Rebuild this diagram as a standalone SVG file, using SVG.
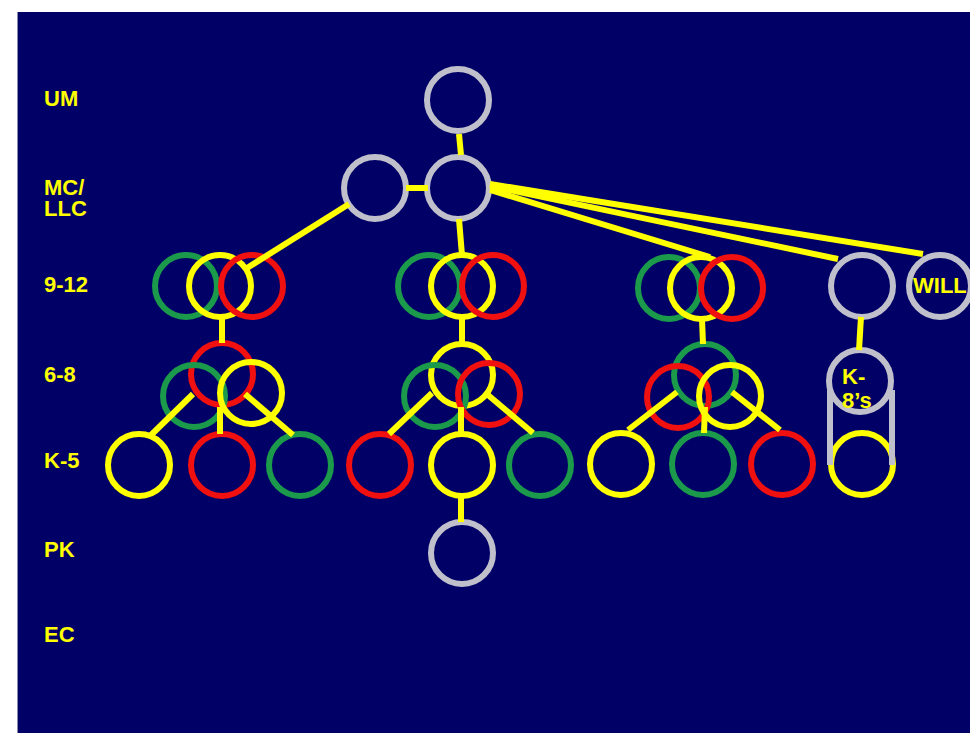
<svg xmlns="http://www.w3.org/2000/svg" width="970" height="733" viewBox="0 0 970 733">
<style>
.ring{fill:none;stroke-width:6}
.g{stroke:#1A9A4A}.y{stroke:#FFFF00}.r{stroke:#F01010}.s{stroke:#C0C0CC}
.conn line{stroke:#FFFF00;stroke-width:6;stroke-linecap:butt}
.cap{stroke:#C0C0CC;stroke-width:6}
text{font-family:"Liberation Sans",Arial,sans-serif;font-weight:bold;font-size:22px;fill:#FFFF00}
</style>
<rect width="970" height="733" fill="#ffffff"/>
<rect x="17" y="12" width="953" height="721" fill="#000066"/>
<line x1="17.5" y1="12" x2="17.5" y2="733" stroke="#8888aa" stroke-width="1"/>
<g id="labels">
<text x="44" y="106">UM</text>
<text x="44" y="195">MC/<tspan x="44" dy="21">LLC</tspan></text>
<text x="44" y="292">9-12</text>
<text x="44" y="382">6-8</text>
<text x="44" y="468">K-5</text>
<text x="44" y="557">PK</text>
<text x="44" y="642">EC</text>
</g>
<g id="um"><circle class="ring s" cx="458" cy="100" r="31"/></g>
<g id="mc"><circle class="ring s" cx="458" cy="188" r="31"/></g>
<g id="llc"><circle class="ring s" cx="375" cy="188" r="31"/></g>
<g id="hs1"><circle class="ring g" cx="186" cy="286" r="31"/><circle class="ring y" cx="220" cy="286" r="31"/><circle class="ring r" cx="252" cy="286" r="31"/></g>
<g id="ms1"><circle class="ring r" cx="222" cy="374" r="31"/><circle class="ring g" cx="194" cy="396" r="31"/><circle class="ring y" cx="251" cy="393" r="31"/></g>
<g id="es1a"><circle class="ring y" cx="139" cy="465" r="31"/></g>
<g id="es1b"><circle class="ring r" cx="222" cy="465" r="31"/></g>
<g id="es1c"><circle class="ring g" cx="300" cy="465" r="31"/></g>
<g id="hs2"><circle class="ring g" cx="429" cy="286" r="31"/><circle class="ring y" cx="462" cy="286" r="31"/><circle class="ring r" cx="493" cy="286" r="31"/></g>
<g id="ms2"><circle class="ring y" cx="462" cy="375" r="31"/><circle class="ring g" cx="435" cy="396" r="31"/><circle class="ring r" cx="489" cy="394" r="31"/></g>
<g id="es2a"><circle class="ring r" cx="380" cy="465" r="31"/></g>
<g id="es2b"><circle class="ring y" cx="462" cy="465" r="31"/></g>
<g id="es2c"><circle class="ring g" cx="540" cy="465" r="31"/></g>
<g id="pk"><circle class="ring s" cx="462" cy="553" r="31"/></g>
<g id="hs3"><circle class="ring g" cx="669" cy="288" r="31"/><circle class="ring y" cx="701" cy="288" r="31"/><circle class="ring r" cx="732" cy="288" r="31"/></g>
<g id="ms3"><circle class="ring g" cx="705" cy="375" r="31"/><circle class="ring r" cx="678" cy="397" r="31"/><circle class="ring y" cx="730" cy="396" r="31"/></g>
<g id="es3a"><circle class="ring y" cx="621" cy="464" r="31"/></g>
<g id="es3b"><circle class="ring g" cx="703" cy="464" r="31"/></g>
<g id="es3c"><circle class="ring r" cx="782" cy="464" r="31"/></g>
<g id="k8hs"><circle class="ring s" cx="862" cy="286" r="31"/></g>
<g id="will"><circle class="ring s" cx="940" cy="286" r="31"/><text x="913" y="293">WILL</text></g>
<g id="k8"><circle class="ring y" cx="862" cy="464" r="31"/><line class="cap" x1="830" y1="390" x2="830" y2="465"/><line class="cap" x1="892" y1="390" x2="892" y2="465"/><circle class="ring s" cx="860" cy="381" r="31"/><text x="842" y="384" font-size="21">K-<tspan x="842" dy="24">8’s</tspan></text></g>
<g id="connectors" class="conn">
<line x1="459" y1="134" x2="461" y2="155"/>
<line x1="406" y1="188" x2="428" y2="188"/>
<line x1="349" y1="204" x2="247" y2="268"/>
<line x1="459" y1="219" x2="462" y2="255"/>
<line x1="490" y1="184" x2="923" y2="254"/>
<line x1="490" y1="186" x2="838" y2="259"/>
<line x1="490" y1="190" x2="710" y2="257"/>
<line x1="222" y1="317" x2="222" y2="343"/>
<line x1="193" y1="394" x2="149" y2="437"/>
<line x1="220" y1="407" x2="220" y2="434"/>
<line x1="245" y1="394" x2="293" y2="435"/>
<line x1="462" y1="317" x2="462" y2="344"/>
<line x1="432" y1="393" x2="389" y2="434"/>
<line x1="461" y1="407" x2="461" y2="434"/>
<line x1="488" y1="395" x2="533" y2="433"/>
<line x1="461" y1="496" x2="461" y2="522"/>
<line x1="702" y1="319" x2="703" y2="344"/>
<line x1="677" y1="392" x2="628" y2="430"/>
<line x1="705" y1="407" x2="704" y2="433"/>
<line x1="732" y1="392" x2="780" y2="430"/>
<line x1="861" y1="317" x2="859" y2="350"/>
</g>
</svg>
